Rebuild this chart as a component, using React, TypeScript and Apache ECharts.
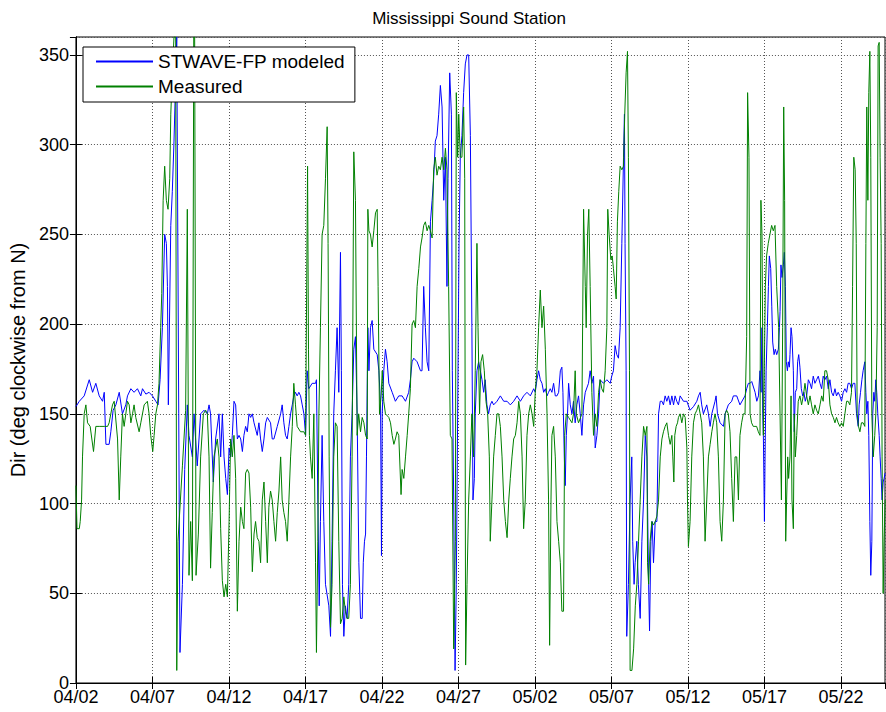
import { useEffect, useRef } from "react";
import * as echarts from "echarts";

// ---- data -------------------------------------------------------------
const START_UTC = Date.UTC(2000, 3, 2); // 04/02
const X_MAX_DAYS = 52.88;
const Y_MAX = 360;
const TITLE = "Mississippi Sound Station";
const Y_LABEL = "Dir (deg clockwise from N)";
const SERIES_NAMES = ["STWAVE-FP modeled", "Measured"];

// [days since 04/02, direction in degrees]
const modeledDir: [number, number][] = [
  [0,154],[0.22,157],[0.54,160],[0.87,169],[1.09,162],[1.30,167],[1.52,160],[1.74,157],[1.85,162],[1.96,133],[2.17,133],[2.28,140],[2.43,152],[2.61,155],[2.83,162],[3.04,150],[3.26,155],[3.37,160],[3.59,164],[3.80,162],[4.02,164],[4.24,160],[4.35,164],[4.57,161],[4.78,162],[5.0,160],[5.22,157],[5.37,155],[5.50,169],[5.65,198],[5.80,250],[5.91,245],[5.98,221],[6.04,155],[6.20,255],[6.30,274],[6.41,302],[6.59,360],[6.63,360],[6.72,150],[6.80,17],[6.96,55],[7.11,119],[7.28,155],[7.39,138],[7.61,126],[7.72,150],[7.93,121],[8.15,150],[8.37,152],[8.59,150],[8.70,155],[8.80,150],[8.98,112],[9.13,136],[9.35,150],
  [9.46,126],[9.57,150],[9.68,126],[9.79,114],[9.90,105],[10.01,131],[10.11,126],[10.22,138],[10.33,157],[10.44,155],[10.55,136],[10.66,138],[10.77,136],[10.88,129],[10.98,138],[11.09,143],[11.20,140],[11.31,150],[11.42,148],[11.53,150],[11.64,145],[11.85,138],[11.96,145],[12.07,136],[12.18,129],[12.29,136],[12.40,145],[12.51,148],[12.72,145],[12.83,136],[12.94,136],[13.16,143],[13.38,150],[13.48,155],[13.59,145],[13.70,138],[13.81,136],[13.92,143],[14.03,150],[14.14,155],[14.24,160],[14.35,162],[14.46,160],[14.57,162],[14.68,160],[14.79,155],[14.90,150],[15.01,138],[15.11,174],[15.22,164],[15.44,167],[15.66,167],[15.72,169],[15.81,102],[15.90,43],[15.98,90],[16.09,138],[16.20,90],[16.31,55],[16.53,43],[16.64,26],[16.74,79],[16.85,150],[16.96,174],[17.07,198],[17.18,162],[17.29,240],[17.35,174],[17.42,55],[17.51,26],[17.61,43],[17.72,36],[17.83,55],[17.94,126],[18.05,150],[18.16,186],[18.27,193],[18.38,150],
  [18.49,67],[18.60,36],[18.71,36],[18.78,67],[18.86,79],[18.93,83],[18.99,126],[19.08,198],[19.15,174],[19.25,198],[19.36,202],[19.47,186],[19.69,183],[19.80,174],[19.91,155],[19.97,71],[20.02,150],[20.12,174],[20.23,186],[20.34,179],[20.45,167],[20.67,162],[20.88,157],[21.10,160],[21.32,160],[21.54,157],[21.75,162],[21.86,169],[21.97,179],[22.08,181],[22.30,179],[22.52,174],[22.62,174],[22.73,221],[22.84,198],[22.95,179],[23.06,174],[23.17,257],[23.28,269],[23.38,281],[23.49,302],[23.60,305],[23.71,317],[23.82,333],[23.93,321],[24.04,269],[24.15,293],[24.25,221],[24.32,281],[24.43,340],[24.54,317],[24.60,174],[24.69,102],[24.78,7],[24.86,55],[24.95,150],[25.04,245],[25.12,293],[25.23,305],[25.34,329],[25.45,345],[25.56,350],[25.67,350],[25.78,305],[25.88,198],[25.95,102],[26.04,114],[26.10,150],[26.21,174],[26.32,179],[26.43,174],[26.54,169],[26.65,162],[26.75,169],[26.86,155],[26.97,150],[27.08,155],[27.19,157],[27.30,155],[27.52,157],
  [27.74,160],[27.96,157],[28.18,157],[28.39,155],[28.61,157],[28.83,160],[29.05,157],[29.26,160],[29.48,162],[29.70,160],[29.92,164],[30.02,162],[30.13,169],[30.24,174],[30.35,169],[30.46,167],[30.57,162],[30.68,164],[30.79,160],[30.89,162],[31.0,164],[31.11,162],[31.22,167],[31.33,160],[31.44,160],[31.55,162],[31.66,174],[31.76,176],[31.83,162],[31.92,126],[31.98,110],[32.05,138],[32.13,150],[32.20,167],[32.31,155],[32.42,150],[32.52,157],[32.63,145],[32.74,155],[32.85,160],[32.96,150],[33.07,138],[33.18,155],[33.29,162],[33.50,167],[33.61,174],[33.72,167],[33.83,171],[33.94,131],[34.05,138],[34.16,150],[34.26,169],[34.48,167],[34.70,169],[34.92,167],[35.02,171],[35.13,174],[35.24,188],[35.35,183],[35.46,181],[35.57,198],[35.68,245],[35.79,293],[35.85,317],[35.89,245],[35.96,174],[36.0,26],[36.11,55],[36.22,102],[36.33,126],[36.39,79],[36.48,55],[36.55,67],[36.66,79],[36.76,55],
  [36.88,36],[36.99,79],[37.10,102],[37.21,138],[37.32,126],[37.43,55],[37.49,29],[37.58,79],[37.66,90],[37.75,67],[37.86,90],[37.97,90],[38.08,150],[38.19,157],[38.30,157],[38.40,155],[38.51,160],[38.62,157],[38.73,160],[38.84,155],[38.95,160],[39.06,155],[39.16,160],[39.27,157],[39.38,155],[39.49,160],[39.71,157],[39.93,157],[40.14,152],[40.36,154],[40.58,157],[40.69,160],[40.80,162],[40.90,155],[41.01,150],[41.23,155],[41.34,150],[41.45,143],[41.56,150],[41.77,157],[41.84,160],[41.93,150],[42.10,145],[42.32,143],[42.43,150],[42.64,155],[42.86,157],[42.97,160],[43.19,160],[43.40,155],[43.73,160],[43.84,164],[43.95,167],[44.06,167],[44.17,168],[44.39,162],[44.50,157],[44.61,160],[44.71,174],[44.78,162],[44.84,198],[44.89,150],[44.93,138],[45.0,90],[45.04,126],[45.11,174],[45.19,198],[45.26,221],[45.32,238],[45.41,231],[45.48,210],[45.54,190],[45.63,183],[45.71,186],[45.80,183],[45.91,186],[45.98,198],[46.02,207],[46.08,233],[46.15,226],[46.24,233],[46.30,240],[46.37,221],[46.43,179],[46.50,174],[46.56,179],[46.63,176],[46.67,183],[46.74,198],[46.80,193],[46.89,174],[46.95,140],[47.02,162],[47.11,164],[47.17,179],[47.24,183],[47.32,176],[47.41,164],[47.50,160],[47.58,162],[47.67,157],[47.76,160],[47.87,169],[47.98,167],[48.08,164],[48.19,171],[48.30,167],[48.41,169],[48.52,171],[48.63,167],[48.74,164],[48.84,171],[48.95,169],[49.06,171],[49.17,164],[49.28,169],[49.39,162],[49.50,160],[49.61,164],[49.71,160],[49.82,162],[49.93,160],[50.04,157],[50.15,162],[50.26,164],[50.37,162],[50.47,167],[50.58,167],[50.69,164],[50.80,167],[50.91,167],[51.02,150],[51.13,143],[51.19,155],[51.28,162],[51.37,169],[51.45,174],[51.56,179],[51.63,162],[51.69,150],[51.76,157],[51.82,138],[51.89,90],[51.95,60],[52.02,79],[52.08,150],[52.15,162],[52.21,157],[52.28,169],[52.34,162],[52.41,150],[52.50,138],[52.56,126],[52.63,114],[52.69,102],[52.76,112],[52.82,114],[52.89,117],
];

const measuredDir: [number, number][] = [
  [0,110],[0.07,86],[0.22,86],[0.28,90],[0.37,102],[0.43,126],[0.54,150],[0.65,155],[0.76,145],[0.93,143],[1.15,129],[1.30,143],[1.52,143],[1.85,143],[2.07,143],[2.17,145],[2.39,155],[2.50,157],[2.72,136],[2.83,102],[2.93,126],[3.04,150],[3.15,143],[3.37,157],[3.48,155],[3.59,145],[3.70,150],[3.80,155],[3.91,148],[4.13,140],[4.24,145],[4.46,155],[4.67,157],[4.78,150],[4.89,138],[5.02,129],[5.11,138],[5.22,150],[5.33,155],[5.43,167],[5.54,198],[5.61,217],[5.70,269],[5.80,288],[5.91,269],[6.02,264],[6.13,281],[6.20,317],[6.30,340],[6.41,360],[6.52,360],[6.59,7],[6.67,79],[6.96,121],[7.17,152],[7.28,264],[7.39,60],[7.50,90],[7.61,57],[7.70,360],[7.76,360],[7.85,60],[8.0,83],[8.15,126],[8.33,150],[8.48,152],[8.59,150],[8.70,126],[8.80,64],[8.91,95],[9.02,126],[9.24,136],[9.35,126],[9.46,86],
  [9.57,57],[9.68,48],[9.79,55],[9.90,48],[10.01,90],[10.11,136],[10.22,126],[10.33,138],[10.44,114],[10.55,40],[10.66,79],[10.77,98],[10.88,90],[10.98,86],[11.09,117],[11.20,119],[11.31,117],[11.42,98],[11.53,62],[11.64,83],[11.74,90],[11.85,81],[11.96,79],[12.07,67],[12.18,102],[12.29,112],[12.40,90],[12.51,67],[12.61,98],[12.72,107],[12.83,102],[12.94,90],[13.05,79],[13.16,95],[13.27,107],[13.38,126],[13.48,102],[13.59,95],[13.70,90],[13.81,79],[13.92,102],[14.03,126],[14.14,143],[14.24,167],[14.35,155],[14.46,143],[14.68,140],[14.90,140],[15.01,138],[15.14,288],[15.20,186],[15.26,138],[15.33,126],[15.44,114],[15.55,150],[15.66,67],[15.72,17],[15.81,79],[15.88,150],[15.98,198],[16.09,250],[16.20,255],[16.31,281],[16.42,310],[16.48,245],[16.55,126],[16.64,31],[16.74,55],[16.85,126],[16.96,145],[17.07,143],[17.18,79],[17.29,33],[17.40,36],[17.51,48],[17.61,40],[17.72,36],[17.83,36],[17.94,55],[18.05,126],[18.16,296],[18.27,269],[18.38,138],[18.48,150],
  [18.60,140],[18.71,148],[18.82,145],[18.93,138],[19.04,136],[19.08,264],[19.15,252],[19.25,250],[19.36,243],[19.47,252],[19.58,262],[19.69,264],[19.75,221],[19.84,150],[19.95,160],[20.02,174],[20.12,157],[20.23,150],[20.45,148],[20.56,145],[20.67,138],[20.78,133],[20.88,136],[20.99,140],[21.10,138],[21.25,105],[21.32,119],[21.43,114],[21.54,126],[21.65,138],[21.75,150],[21.86,164],[21.97,200],[22.08,202],[22.19,198],[22.30,221],[22.41,231],[22.52,243],[22.62,248],[22.73,255],[22.84,257],[22.95,252],[23.06,255],[23.17,252],[23.28,248],[23.38,286],[23.49,293],[23.60,283],[23.71,288],[23.82,286],[23.93,293],[24.04,286],[24.15,298],[24.25,286],[24.36,221],[24.47,138],[24.58,136],[24.69,19],[24.80,79],[24.86,329],[24.95,293],[25.02,317],[25.12,293],[25.23,293],[25.34,321],[25.41,281],[25.47,10],[25.56,55],[25.67,102],[25.78,126],[25.88,150],[25.99,126],[26.10,174],[26.21,245],[26.28,198],[26.38,150],[26.47,179],[26.58,183],[26.69,174],[26.80,157],[26.91,150],[27.02,126],[27.08,79],[27.19,102],[27.30,126],[27.41,138],[27.52,150],
  [27.63,150],[27.74,143],[27.85,126],[27.96,102],[28.07,90],[28.18,81],[28.29,102],[28.39,114],[28.50,126],[28.61,136],[28.72,138],[28.83,145],[28.94,157],[29.05,150],[29.16,126],[29.26,86],[29.37,102],[29.48,138],[29.59,150],[29.70,155],[29.81,150],[29.92,143],[30.02,162],[30.13,174],[30.24,198],[30.35,219],[30.46,198],[30.57,210],[30.68,186],[30.79,150],[30.89,102],[30.96,21],[31.05,102],[31.11,138],[31.22,143],[31.33,126],[31.44,90],[31.55,79],[31.66,67],[31.76,40],[31.87,40],[31.94,138],[32.05,150],[32.20,148],[32.42,145],[32.52,150],[32.63,174],[32.70,150],[32.85,145],[33.07,150],[33.18,264],[33.29,221],[33.35,198],[33.44,250],[33.52,264],[33.61,221],[33.72,162],[33.83,138],[33.94,150],[34.05,143],[34.16,162],[34.26,169],[34.37,164],[34.48,162],[34.59,174],[34.70,198],[34.76,264],[34.85,250],[34.96,236],[35.05,238],[35.13,231],[35.24,221],[35.31,214],[35.39,257],[35.48,274],[35.57,288],[35.68,286],[35.79,288],[35.87,317],[35.96,340],[36.05,352],[36.11,293],[36.18,174],[36.22,7],[36.34,7],[36.45,19],[36.56,43],[36.66,55],[36.77,79],[36.88,102],[36.99,126],[37.10,143],[37.21,138],[37.32,143],[37.36,67],[37.43,55],[37.53,79],[37.64,90],[37.75,88],[37.86,90],[37.97,93],[38.08,102],[38.19,126],[38.30,136],[38.40,140],[38.51,143],[38.62,145],[38.73,138],[38.84,133],[38.95,138],[39.01,126],[39.08,112],[39.14,138],[39.23,143],[39.32,145],[39.38,148],[39.49,150],[39.60,145],[39.71,150],[39.82,148],[39.93,131],[39.97,102],[40.03,76],[40.14,90],[40.25,126],[40.36,145],[40.47,150],[40.58,152],[40.69,155],[40.80,150],[40.90,145],[41.01,126],[41.12,79],[41.23,102],[41.34,126],[41.45,133],[41.56,140],[41.66,145],[41.77,150],[41.88,145],[41.99,126],[42.10,90],[42.21,79],[42.32,102],[42.43,150],[42.53,152],[42.64,150],[42.75,140],[42.86,114],[42.97,90],[43.08,126],[43.19,126],[43.30,102],[43.40,138],[43.51,145],[43.62,150],[43.73,150],[43.84,193],[43.90,329],[43.99,293],[44.06,150],[44.16,145],[44.27,143],[44.38,143],[44.49,143],[44.60,140],[44.71,138],[44.77,269],[44.84,250],[44.93,138],[44.99,174],[45.06,221],[45.14,238],[45.25,245],[45.36,250],[45.47,255],[45.58,252],[45.69,255],[45.80,221],[45.93,198],[46.02,150],[46.11,102],[46.19,198],[46.26,321],[46.32,269],[46.39,79],[46.45,102],[46.52,126],[46.58,114],[46.67,126],[46.74,160],[46.80,102],[46.89,86],[46.95,150],[47.02,126],[47.11,138],[47.21,157],[47.32,160],[47.43,155],[47.54,160],[47.65,167],[47.76,160],[47.87,155],[47.98,160],[48.08,155],[48.19,150],[48.30,155],[48.41,152],[48.52,150],[48.63,155],[48.74,160],[48.84,157],[48.95,174],[49.06,174],[49.17,169],[49.28,155],[49.39,150],[49.50,148],[49.61,145],[49.71,148],[49.82,145],[49.93,143],[50.04,145],[50.15,143],[50.26,150],[50.37,157],[50.47,157],[50.58,155],[50.69,162],[50.76,221],[50.84,293],[50.93,286],[51.0,245],[51.06,150],[51.15,143],[51.24,140],[51.34,145],[51.45,145],[51.56,143],[51.63,245],[51.69,321],[51.76,269],[51.82,329],[51.89,352],[51.95,293],[52.02,150],[52.11,126],[52.21,138],[52.28,150],[52.37,198],[52.43,355],[52.50,357],[52.56,293],[52.63,245],[52.69,126],[52.76,50],[52.82,79],[52.89,102],
];

// ---- helpers ----------------------------------------------------------
const FONT = "'Liberation Sans', Arial, Helvetica, sans-serif";

function fmtDay(v: number): string {
  const d = new Date(START_UTC + Math.round(v) * 86400000);
  const mm = String(d.getUTCMonth() + 1).padStart(2, "0");
  const dd = String(d.getUTCDate()).padStart(2, "0");
  return `${mm}/${dd}`;
}

const frameLine = { show: true, lineStyle: { color: "#000", width: 1 } };
const innerTick = { show: true, inside: true, length: 6, lineStyle: { color: "#000", width: 1 } };
const dotted = { show: true, lineStyle: { type: [1, 2] as number[], color: "#555", width: 1 } };

export default function App() {
  const ref = useRef<HTMLDivElement>(null);

  useEffect(() => {
    document.body.style.margin = "0";
    if (!ref.current) return;
    const chart = echarts.init(ref.current, undefined, { renderer: "svg" });
    chart.setOption({
      animation: false,
      backgroundColor: "#fff",
      textStyle: { fontFamily: FONT },
      title: {
        text: TITLE,
        left: 464,
        top: 5,
        textAlign: "center",
        textStyle: { fontSize: 17, fontWeight: "normal", color: "#000", fontFamily: FONT },
      },
      legend: {
        data: SERIES_NAMES,
        orient: "vertical",
        left: 83,
        top: 47,
        padding: [5, 10, 6, 12],
        itemGap: 6,
        itemWidth: 57,
        itemHeight: 21,
        backgroundColor: "#fff",
        borderColor: "#000",
        borderWidth: 1,
        borderRadius: 0,
        selectedMode: false,
        itemStyle: { opacity: 0 },
        textStyle: { fontSize: 19, color: "#000", fontFamily: FONT },
      },
      grid: {
        left: 75,
        top: 37,
        right: 1,
        bottom: 29,
        show: true,
        borderColor: "#000",
        borderWidth: 1,
        backgroundColor: "transparent",
      },
      xAxis: [
        {
          type: "value",
          min: 0,
          max: X_MAX_DAYS,
          interval: 5,
          position: "bottom",
          axisLine: frameLine,
          axisTick: innerTick,
          axisLabel: {
            formatter: fmtDay,
            showMaxLabel: false,
            fontSize: 18,
            lineHeight: 14,
            color: "#000",
            margin: 7,
            fontFamily: FONT,
          },
          splitLine: dotted,
        },
        {
          type: "value",
          min: 0,
          max: X_MAX_DAYS,
          interval: 5,
          position: "top",
          axisLine: frameLine,
          axisTick: innerTick,
          axisLabel: { show: false },
          splitLine: { show: false },
        },
      ],
      yAxis: [
        {
          type: "value",
          min: 0,
          max: Y_MAX,
          interval: 50,
          position: "left",
          name: Y_LABEL,
          nameLocation: "middle",
          nameGap: 47,
          nameRotate: 90,
          nameTextStyle: { fontSize: 20, color: "#000", fontFamily: FONT },
          axisLine: frameLine,
          axisTick: innerTick,
          axisLabel: {
            showMaxLabel: false,
            fontSize: 18,
            lineHeight: 12,
            color: "#000",
            margin: 7,
            fontFamily: FONT,
          },
          splitLine: dotted,
        },
        {
          type: "value",
          min: 0,
          max: Y_MAX,
          interval: 50,
          position: "right",
          axisLine: frameLine,
          axisTick: innerTick,
          axisLabel: { show: false },
          splitLine: { show: false },
        },
      ],
      series: [
        {
          name: SERIES_NAMES[0],
          type: "line",
          xAxisIndex: 0,
          yAxisIndex: 0,
          data: modeledDir,
          symbol: "none",
          showSymbol: false,
          lineStyle: { color: "#0000ff", width: 1 },
          itemStyle: { color: "#0000ff" },
          z: 2,
        },
        {
          name: SERIES_NAMES[1],
          type: "line",
          xAxisIndex: 0,
          yAxisIndex: 0,
          data: measuredDir,
          symbol: "none",
          showSymbol: false,
          lineStyle: { color: "#008000", width: 1 },
          itemStyle: { color: "#008000" },
          z: 3,
        },
      ],
    });
    return () => chart.dispose();
  }, []);

  return <div ref={ref} style={{ width: 886, height: 712 }} />;
}
